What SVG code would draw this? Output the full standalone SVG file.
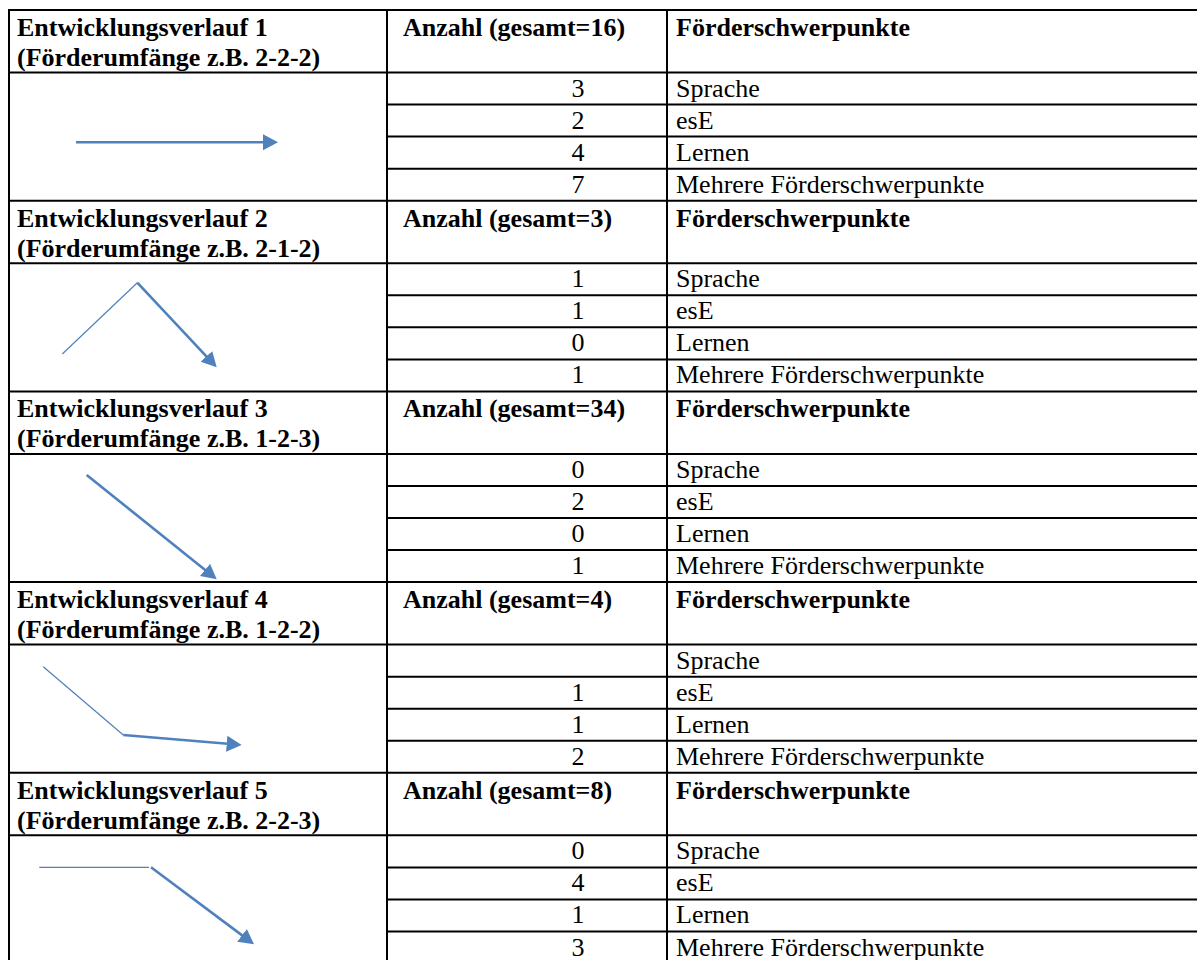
<svg xmlns="http://www.w3.org/2000/svg" width="1197" height="960" viewBox="0 0 1197 960">
<style>
.g{stroke:#000;stroke-width:2;fill:none}
.t{font-family:"Liberation Serif","Times New Roman",serif;font-size:26px;fill:#000}
.b{font-weight:bold}
.n{text-anchor:middle}
.thin{stroke:#4f81bd;stroke-width:1.2;fill:none}
.thick{stroke:#4f81bd;stroke-width:2.6;fill:none;marker-end:url(#ah)}
</style>
<defs>
<marker id="ah" markerUnits="userSpaceOnUse" markerWidth="20" markerHeight="20" viewBox="0 -10 20 20" refX="1" refY="0" orient="auto">
<path d="M0,-8 L15,0 L0,8 Z" fill="#4f81bd"/>
</marker>
</defs>
<rect width="1197" height="960" fill="#fff"/>
<g id="grid">
<line class="g" x1="9" y1="9" x2="9" y2="960"/>
<line class="g" x1="387" y1="9" x2="387" y2="960"/>
<line class="g" x1="667" y1="9" x2="667" y2="960"/>
<line class="g" x1="8" y1="10" x2="1197" y2="10"/>
<line class="g" x1="8" y1="72.5" x2="1197" y2="72.5"/>
<line class="g" x1="387" y1="104.6" x2="1197" y2="104.6"/>
<line class="g" x1="387" y1="136.6" x2="1197" y2="136.6"/>
<line class="g" x1="387" y1="168.7" x2="1197" y2="168.7"/>
<line class="g" x1="8" y1="200.7" x2="1197" y2="200.7"/>
<line class="g" x1="8" y1="263.2" x2="1197" y2="263.2"/>
<line class="g" x1="387" y1="295.3" x2="1197" y2="295.3"/>
<line class="g" x1="387" y1="327.3" x2="1197" y2="327.3"/>
<line class="g" x1="387" y1="359.4" x2="1197" y2="359.4"/>
<line class="g" x1="8" y1="391.4" x2="1197" y2="391.4"/>
<line class="g" x1="8" y1="453.9" x2="1197" y2="453.9"/>
<line class="g" x1="387" y1="486" x2="1197" y2="486"/>
<line class="g" x1="387" y1="518" x2="1197" y2="518"/>
<line class="g" x1="387" y1="550.1" x2="1197" y2="550.1"/>
<line class="g" x1="8" y1="582.1" x2="1197" y2="582.1"/>
<line class="g" x1="8" y1="644.6" x2="1197" y2="644.6"/>
<line class="g" x1="387" y1="676.7" x2="1197" y2="676.7"/>
<line class="g" x1="387" y1="708.7" x2="1197" y2="708.7"/>
<line class="g" x1="387" y1="740.8" x2="1197" y2="740.8"/>
<line class="g" x1="8" y1="772.8" x2="1197" y2="772.8"/>
<line class="g" x1="8" y1="835.3" x2="1197" y2="835.3"/>
<line class="g" x1="387" y1="867.4" x2="1197" y2="867.4"/>
<line class="g" x1="387" y1="899.4" x2="1197" y2="899.4"/>
<line class="g" x1="387" y1="931.5" x2="1197" y2="931.5"/>
</g>
<g id="section1">
<text class="t b" x="17" y="36">Entwicklungsverlauf 1</text>
<text class="t b" x="17" y="66">(Förderumfänge z.B. 2-2-2)</text>
<text class="t b" x="403" y="36">Anzahl (gesamt=16)</text>
<text class="t b" x="676" y="36">Förderschwerpunkte</text>
<text class="t n" x="578" y="96.5">3</text><text class="t" x="676" y="96.5">Sprache</text>
<text class="t n" x="578" y="128.6">2</text><text class="t" x="676" y="128.6">esE</text>
<text class="t n" x="578" y="160.6">4</text><text class="t" x="676" y="160.6">Lernen</text>
<text class="t n" x="578" y="192.7">7</text><text class="t" x="676" y="192.7">Mehrere Förderschwerpunkte</text>
</g>
<g id="section2">
<text class="t b" x="17" y="226.7">Entwicklungsverlauf 2</text>
<text class="t b" x="17" y="256.7">(Förderumfänge z.B. 2-1-2)</text>
<text class="t b" x="403" y="226.7">Anzahl (gesamt=3)</text>
<text class="t b" x="676" y="226.7">Förderschwerpunkte</text>
<text class="t n" x="578" y="287.2">1</text><text class="t" x="676" y="287.2">Sprache</text>
<text class="t n" x="578" y="319.3">1</text><text class="t" x="676" y="319.3">esE</text>
<text class="t n" x="578" y="351.3">0</text><text class="t" x="676" y="351.3">Lernen</text>
<text class="t n" x="578" y="383.4">1</text><text class="t" x="676" y="383.4">Mehrere Förderschwerpunkte</text>
</g>
<g id="section3">
<text class="t b" x="17" y="417.4">Entwicklungsverlauf 3</text>
<text class="t b" x="17" y="447.4">(Förderumfänge z.B. 1-2-3)</text>
<text class="t b" x="403" y="417.4">Anzahl (gesamt=34)</text>
<text class="t b" x="676" y="417.4">Förderschwerpunkte</text>
<text class="t n" x="578" y="477.9">0</text><text class="t" x="676" y="477.9">Sprache</text>
<text class="t n" x="578" y="510">2</text><text class="t" x="676" y="510">esE</text>
<text class="t n" x="578" y="542">0</text><text class="t" x="676" y="542">Lernen</text>
<text class="t n" x="578" y="574.1">1</text><text class="t" x="676" y="574.1">Mehrere Förderschwerpunkte</text>
</g>
<g id="section4">
<text class="t b" x="17" y="608.1">Entwicklungsverlauf 4</text>
<text class="t b" x="17" y="638.1">(Förderumfänge z.B. 1-2-2)</text>
<text class="t b" x="403" y="608.1">Anzahl (gesamt=4)</text>
<text class="t b" x="676" y="608.1">Förderschwerpunkte</text>
<text class="t" x="676" y="668.6">Sprache</text>
<text class="t n" x="578" y="700.7">1</text><text class="t" x="676" y="700.7">esE</text>
<text class="t n" x="578" y="732.7">1</text><text class="t" x="676" y="732.7">Lernen</text>
<text class="t n" x="578" y="764.8">2</text><text class="t" x="676" y="764.8">Mehrere Förderschwerpunkte</text>
</g>
<g id="section5">
<text class="t b" x="17" y="798.8">Entwicklungsverlauf 5</text>
<text class="t b" x="17" y="828.8">(Förderumfänge z.B. 2-2-3)</text>
<text class="t b" x="403" y="798.8">Anzahl (gesamt=8)</text>
<text class="t b" x="676" y="798.8">Förderschwerpunkte</text>
<text class="t n" x="578" y="859.3">0</text><text class="t" x="676" y="859.3">Sprache</text>
<text class="t n" x="578" y="891.4">4</text><text class="t" x="676" y="891.4">esE</text>
<text class="t n" x="578" y="923.4">1</text><text class="t" x="676" y="923.4">Lernen</text>
<text class="t n" x="578" y="955.5">3</text><text class="t" x="676" y="955.5">Mehrere Förderschwerpunkte</text>
</g>
<g id="connectors">
<line class="thick" x1="76" y1="142.3" x2="264" y2="142.3"/>
<line class="thin" x1="62.3" y1="354" x2="137.3" y2="282.7"/>
<line class="thick" x1="137.3" y1="282.7" x2="207.1" y2="357.1"/>
<line class="thick" x1="86.7" y1="475" x2="205.8" y2="570.5"/>
<line class="thin" x1="43.3" y1="666.7" x2="123.3" y2="735"/>
<line class="thick" x1="123.3" y1="735" x2="227.7" y2="743.8"/>
<line class="thin" x1="39.3" y1="867.3" x2="149" y2="867.3"/>
<line class="thick" x1="151" y1="867.3" x2="242.8" y2="935.9"/>
</g>
</svg>
